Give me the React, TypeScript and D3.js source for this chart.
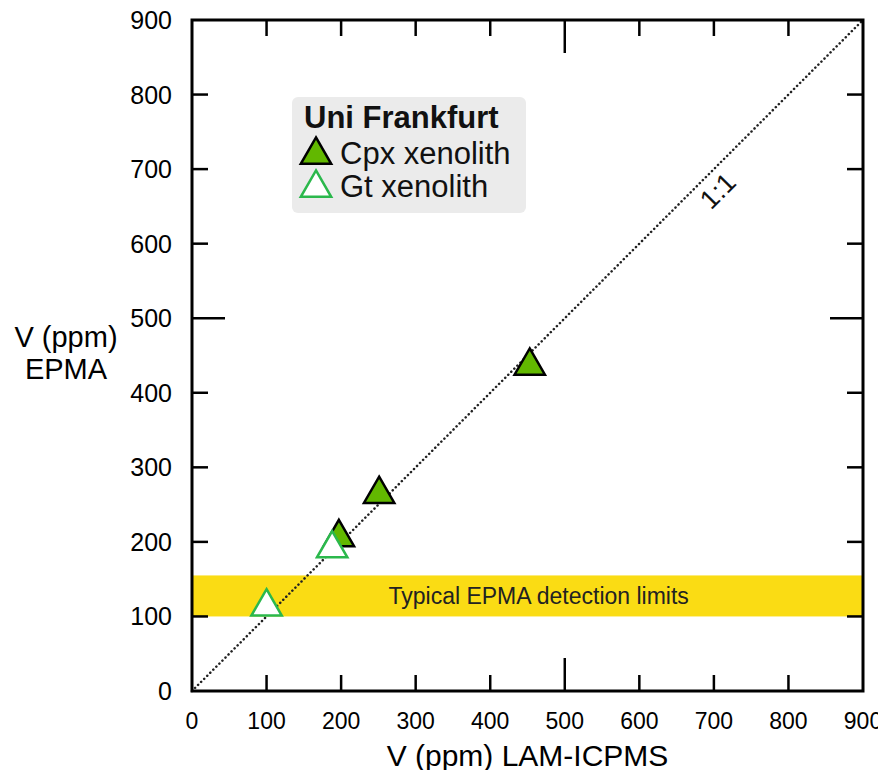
import { useEffect, useRef } from "react";
import * as d3 from "d3";

const TICKS = [0, 100, 200, 300, 400, 500, 600, 700, 800, 900];
const CPX = [
  { x: 453, y: 436 },
  { x: 251, y: 264 },
  { x: 197, y: 206 },
];
const GT = [
  { x: 188, y: 191 },
  { x: 100, y: 113 },
];
const DETECTION = [100, 155];
const LEGEND = [
  { label: "Cpx xenolith", fill: "#62b800", stroke: "#000" },
  { label: "Gt xenolith", fill: "#fff", stroke: "#2bb84c" },
];
const Y_TITLE = ["V (ppm)", "EPMA"];

const FONT = "Liberation Sans, Arial, sans-serif";

export default function App() {
  const svgRef = useRef<SVGSVGElement>(null);

  useEffect(() => {
    if (!svgRef.current) return;
    const W = 886, H = 778;
    const m = { top: 20, right: 23, bottom: 87, left: 192 };
    const iW = W - m.left - m.right;
    const iH = H - m.top - m.bottom;

    const root = d3.select(svgRef.current);
    root.selectAll("*").remove();
    const svg = root.append("g").attr("transform", `translate(${m.left},${m.top})`);

    const x = d3.scaleLinear().domain([0, 900]).range([0, iW]);
    const y = d3.scaleLinear().domain([0, 900]).range([iH, 0]);

    // detection limit band
    svg.append("rect")
      .attr("x", 0).attr("width", iW)
      .attr("y", y(DETECTION[1])).attr("height", y(DETECTION[0]) - y(DETECTION[1]))
      .attr("fill", "#fadc14");
    svg.append("text")
      .attr("x", x(465)).attr("y", (y(DETECTION[0]) + y(DETECTION[1])) / 2 + 8)
      .attr("text-anchor", "middle")
      .style("font-family", FONT).style("font-size", "23px").attr("fill", "#222")
      .text("Typical EPMA detection limits");

    // 1:1 line
    svg.append("line")
      .attr("x1", x(0)).attr("y1", y(0)).attr("x2", x(900)).attr("y2", y(900))
      .attr("stroke", "#222").attr("stroke-width", 2.5)
      .attr("stroke-dasharray", "0.1 4.2").attr("stroke-linecap", "round");
    svg.append("text")
      .attr("transform", `translate(${x(705)},${y(671)}) rotate(-45)`)
      .attr("text-anchor", "middle").attr("dy", "0.35em")
      .style("font-family", FONT).style("font-size", "27px").attr("fill", "#111")
      .text("1:1");

    // ticks inside on all sides
    const tickLen = (d: number) => (d === 500 ? 33 : 16);
    const inner = TICKS.filter(d => d > 0 && d < 900);
    const tick = (cls: string, attrs: (s: any) => void) => {
      const s = svg.selectAll(`.${cls}`).data(inner).join("line").attr("class", cls)
        .attr("stroke", "#000").attr("stroke-width", 2.5);
      attrs(s);
    };
    tick("tb", s => s.attr("x1", d => x(d)).attr("x2", d => x(d)).attr("y1", iH).attr("y2", d => iH - tickLen(d)));
    tick("tt", s => s.attr("x1", d => x(d)).attr("x2", d => x(d)).attr("y1", 0).attr("y2", d => tickLen(d)));
    tick("tl", s => s.attr("y1", d => y(d)).attr("y2", d => y(d)).attr("x1", 0).attr("x2", d => tickLen(d)));
    tick("tr", s => s.attr("y1", d => y(d)).attr("y2", d => y(d)).attr("x1", iW).attr("x2", d => iW - tickLen(d)));

    svg.append("rect")
      .attr("x", 0).attr("y", 0).attr("width", iW).attr("height", iH)
      .attr("fill", "none").attr("stroke", "#000").attr("stroke-width", 3);

    // tick labels
    svg.selectAll(".xl").data(TICKS).join("text").attr("class", "xl")
      .attr("x", d => x(d)).attr("y", iH + 38)
      .attr("text-anchor", "middle")
      .style("font-family", FONT).style("font-size", "23px").attr("fill", "#000")
      .text(d => d);
    svg.selectAll(".yl").data(TICKS).join("text").attr("class", "yl")
      .attr("x", -20).attr("y", d => y(d) + 9)
      .attr("text-anchor", "end")
      .style("font-family", FONT).style("font-size", "25px").attr("fill", "#000")
      .text(d => d);

    // axis titles
    svg.append("text")
      .attr("x", iW / 2).attr("y", iH + 75)
      .attr("text-anchor", "middle")
      .style("font-family", FONT).style("font-size", "30px").attr("fill", "#000")
      .text("V (ppm) LAM-ICPMS");
    svg.selectAll(".yt").data(Y_TITLE).join("text").attr("class", "yt")
      .attr("x", -126).attr("y", (_, i) => 327 + i * 32)
      .attr("text-anchor", "middle")
      .style("font-family", FONT).style("font-size", "29px").attr("fill", "#000")
      .text(d => d);

    const tri = d3.symbol().type(d3.symbolTriangle).size(400);

    // points
    svg.selectAll(".cpx").data(CPX).join("path").attr("class", "cpx")
      .attr("d", tri)
      .attr("transform", d => `translate(${x(d.x)},${y(d.y)})`)
      .attr("fill", LEGEND[0].fill).attr("stroke", LEGEND[0].stroke).attr("stroke-width", 2.5);
    svg.selectAll(".gt").data(GT).join("path").attr("class", "gt")
      .attr("d", tri)
      .attr("transform", d => `translate(${x(d.x)},${y(d.y)})`)
      .attr("fill", LEGEND[1].fill).attr("stroke", LEGEND[1].stroke).attr("stroke-width", 2.5);

    // legend
    const lg = root.append("g").attr("transform", "translate(292,97)");
    lg.append("rect")
      .attr("width", 234).attr("height", 116).attr("rx", 6)
      .attr("fill", "#ebebeb");
    lg.append("text")
      .attr("x", 12).attr("y", 31)
      .style("font-family", FONT).style("font-size", "31px").style("font-weight", "bold").attr("fill", "#111")
      .text("Uni Frankfurt");
    LEGEND.forEach((l, i) => {
      lg.append("path")
        .attr("d", tri)
        .attr("transform", `translate(24,${58 + i * 33})`)
        .attr("fill", l.fill).attr("stroke", l.stroke).attr("stroke-width", 2.5);
      lg.append("text")
        .attr("x", 48).attr("y", 67 + i * 33)
        .style("font-family", FONT).style("font-size", "31px").attr("fill", "#111")
        .text(l.label);
    });
  }, []);

  return <svg ref={svgRef} width={886} height={778} style={{ display: "block", margin: -8 }} />;
}
